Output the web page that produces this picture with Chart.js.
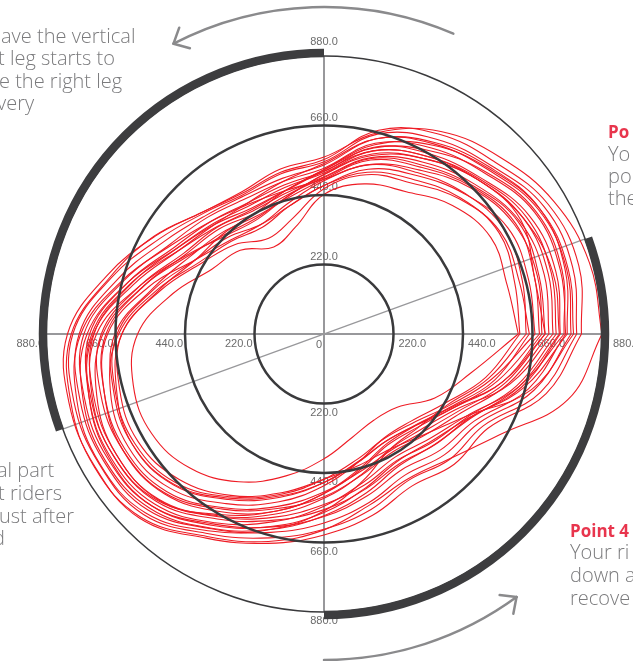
<!DOCTYPE html>
<html>
<head>
<meta charset="utf-8">
<script src="https://cdn.jsdelivr.net/npm/chart.js@4.4.1/dist/chart.umd.min.js"></script>
<style>
  html, body { margin: 0; padding: 0; background: #fff; }
  #wrap { width: 633px; height: 661px; position: relative; }
</style>
</head>
<body>
<div id="wrap"><canvas id="pedalChart"></canvas></div>
<script>
// crank angle (degrees, counter-clockwise from the right) for every sample
const angles = [0, 15, 30, 45, 60, 75, 90, 105, 120, 135, 150, 165, 180, 195, 210, 225, 240, 255, 270, 285, 300, 315, 330, 345];

// pedal force per revolution
const loop1  = [615, 600, 610, 575, 520, 492, 442, 350, 318, 375, 410, 495, 590, 625, 630, 600, 540, 465, 395, 340, 315, 328, 405, 480];
const loop2  = [650, 640, 645, 605, 552, 522, 460, 380, 350, 400, 448, 535, 640, 680, 700, 675, 605, 535, 470, 418, 392, 408, 462, 560];
const loop3  = [682, 690, 700, 660, 610, 570, 490, 445, 430, 455, 490, 560, 662, 690, 700, 672, 600, 530, 470, 420, 392, 410, 470, 570];
const loop4  = [712, 722, 715, 672, 628, 578, 498, 462, 450, 478, 512, 600, 705, 732, 735, 712, 640, 572, 515, 462, 432, 452, 500, 605];
const loop5  = [700, 705, 710, 665, 618, 575, 495, 455, 440, 470, 505, 590, 690, 720, 728, 705, 635, 565, 500, 450, 425, 440, 490, 595];
const loop6  = [748, 760, 750, 700, 660, 612, 515, 488, 480, 505, 548, 640, 742, 765, 770, 750, 676, 610, 556, 508, 475, 496, 532, 648];
const loop7  = [735, 745, 740, 695, 650, 600, 510, 480, 470, 495, 540, 628, 728, 755, 760, 742, 668, 600, 540, 495, 462, 485, 525, 632];
const loop8  = [782, 795, 785, 735, 695, 640, 535, 510, 505, 530, 585, 675, 775, 800, 805, 788, 712, 650, 598, 552, 515, 540, 565, 688];
const loop9  = [765, 775, 770, 720, 680, 625, 525, 500, 495, 522, 565, 655, 760, 785, 790, 770, 695, 632, 578, 530, 495, 520, 550, 670];
const loop10 = [815, 835, 820, 768, 730, 668, 552, 530, 515, 545, 618, 712, 812, 836, 838, 825, 746, 686, 636, 594, 556, 583, 598, 728];
const loop11 = [640, 650, 660, 630, 590, 555, 490, 470, 475, 505, 560, 660, 770, 810, 820, 800, 720, 640, 560, 480, 420, 420, 450, 540];
const loop12 = [790, 800, 790, 740, 690, 620, 520, 470, 440, 450, 470, 540, 640, 670, 680, 650, 590, 520, 460, 430, 420, 450, 520, 680];
const loop13 = [668, 670, 672, 628, 580, 540, 470, 420, 400, 432, 470, 555, 655, 685, 692, 665, 595, 525, 460, 410, 382, 398, 455, 550];
const loop14 = [800, 815, 805, 752, 712, 655, 545, 525, 510, 540, 602, 695, 795, 820, 822, 808, 730, 668, 618, 575, 535, 562, 582, 710];
const loop15 = [880, 870, 840, 790, 740, 660, 560, 540, 520, 545, 620, 700, 800, 830, 840, 820, 740, 680, 620, 560, 530, 560, 640, 800];
const loop16 = [700, 690, 720, 690, 640, 585, 505, 450, 420, 440, 500, 600, 720, 760, 770, 745, 660, 580, 505, 440, 400, 410, 465, 585];
const loop17 = [760, 780, 775, 725, 670, 610, 520, 470, 455, 480, 530, 630, 735, 770, 780, 760, 690, 615, 545, 485, 450, 470, 520, 640];
const loop18 = [725, 735, 730, 690, 640, 590, 505, 450, 425, 445, 495, 590, 700, 745, 760, 740, 665, 590, 520, 460, 420, 430, 480, 610];
const loop19 = [690, 700, 695, 655, 600, 555, 485, 430, 400, 420, 470, 575, 685, 720, 735, 715, 650, 580, 505, 445, 405, 418, 470, 585];
const loop20 = [770, 790, 790, 745, 700, 640, 540, 500, 480, 490, 530, 620, 730, 770, 785, 770, 700, 630, 565, 505, 465, 480, 530, 655];
const loop21 = [620, 625, 640, 610, 565, 530, 470, 420, 390, 415, 455, 545, 650, 700, 715, 690, 620, 550, 480, 420, 380, 390, 440, 530];
const loop22 = [745, 750, 730, 690, 650, 600, 515, 470, 460, 490, 540, 640, 750, 790, 800, 780, 710, 640, 575, 520, 480, 495, 535, 640];

const loops = [loop1, loop2, loop3, loop4, loop5, loop6, loop7, loop8, loop9, loop10, loop11,
               loop12, loop13, loop14, loop15, loop16, loop17, loop18, loop19, loop20, loop21, loop22];

const ringValues = [220, 440, 660];
const tickValues = [220, 440, 660, 880];
const maxValue = 880;

function toPoints(radii) {
    const pts = angles.map((a, i) => {
        const t = a * Math.PI / 180;
        return { x: radii[i] * Math.cos(t), y: radii[i] * Math.sin(t) };
    });
    pts.push(pts[0]);
    return pts;
}

const datasets = loops.map((r, i) => ({
    label: 'Loop ' + (i + 1),
    data: toPoints(r),
    showLine: true,
    borderColor: '#ee1c25',
    borderWidth: 1.1,
    pointRadius: 0,
    tension: 0.4,
    fill: false
}));

function seg(ctx, x1, y1, x2, y2) {
    ctx.beginPath();
    ctx.moveTo(x1, y1);
    ctx.lineTo(x2, y2);
    ctx.stroke();
}

function arrowHead(ctx, tx, ty, dirX, dirY, len, spread) {
    // dir points backwards from the tip
    const a = Math.atan2(dirY, dirX);
    seg(ctx, tx, ty, tx + len * Math.cos(a + spread), ty + len * Math.sin(a + spread));
    seg(ctx, tx, ty, tx + len * Math.cos(a - spread), ty + len * Math.sin(a - spread));
}

const polarFrame = {
    id: 'polarFrame',
    beforeDatasetsDraw(chart) {
        const { ctx, scales: { x, y } } = chart;
        const cx = x.getPixelForValue(0), cy = y.getPixelForValue(0);
        ctx.save();
        ctx.strokeStyle = '#98989b';
        ctx.lineWidth = 2;
        seg(ctx, x.getPixelForValue(-maxValue), cy, x.getPixelForValue(maxValue), cy);
        seg(ctx, cx, y.getPixelForValue(maxValue), cx, y.getPixelForValue(-maxValue));

        const d = 20 * Math.PI / 180;
        ctx.lineWidth = 1.3;
        seg(ctx, x.getPixelForValue(-maxValue * Math.cos(d)), y.getPixelForValue(-maxValue * Math.sin(d)),
                 x.getPixelForValue(maxValue * Math.cos(d)), y.getPixelForValue(maxValue * Math.sin(d)));

        ctx.fillStyle = '#6b6b6b';
        ctx.font = '11px "Liberation Sans", Arial, sans-serif';
        ctx.textBaseline = 'middle';
        tickValues.forEach(v => {
            const txt = v.toFixed(1);
            ctx.textAlign = 'center';
            ctx.fillText(txt, cx, y.getPixelForValue(v) - (v === maxValue ? 14 : 8));
            ctx.fillText(txt, cx, y.getPixelForValue(-v) + 9);
            ctx.textAlign = 'right';
            ctx.fillText(txt, x.getPixelForValue(-v) - 2, cy + 10);
            ctx.textAlign = 'left';
            ctx.fillText(txt, x.getPixelForValue(v) + (v === maxValue ? 11 : 5), cy + 10);
        });
        ctx.textAlign = 'right';
        ctx.fillText('0', cx - 2, cy + 11);
        ctx.restore();
    },
    afterDatasetsDraw(chart) {
        const { ctx, scales: { x, y } } = chart;
        const cx = x.getPixelForValue(0), cy = y.getPixelForValue(0);
        ctx.save();
        ctx.strokeStyle = '#3a3a3c';
        ctx.lineWidth = 2.5;
        ringValues.forEach(v => {
            ctx.beginPath();
            ctx.arc(cx, cy, x.getPixelForValue(v) - cx, 0, Math.PI * 2);
            ctx.stroke();
        });
        const R = x.getPixelForValue(maxValue) - cx;
        ctx.lineWidth = 1.5;
        ctx.beginPath();
        ctx.arc(cx, cy, R, 0, Math.PI * 2);
        ctx.stroke();

        // thick arcs on the outer ring
        ctx.lineWidth = 8.5;
        ctx.strokeStyle = '#3d3d3f';
        ctx.beginPath();
        ctx.arc(cx, cy, R + 3, -Math.PI / 2, -200 * Math.PI / 180, true);
        ctx.stroke();
        ctx.beginPath();
        ctx.arc(cx, cy, R + 3, Math.PI / 2, -20 * Math.PI / 180, true);
        ctx.stroke();
        ctx.restore();
    },
    afterDraw(chart) {
        const { ctx, scales: { x, y } } = chart;
        const cx = x.getPixelForValue(0), cy = y.getPixelForValue(0);
        ctx.save();

        // curved arrows
        ctx.strokeStyle = '#8a8a8c';
        ctx.lineWidth = 2.5;
        ctx.lineCap = 'round';
        const ra = 327;
        const a1 = -66.7 * Math.PI / 180, a2 = -117.4 * Math.PI / 180;
        ctx.beginPath();
        ctx.arc(cx, cy, ra, a1, a2, true);
        ctx.stroke();
        let tx = cx + ra * Math.cos(a2), ty = cy + ra * Math.sin(a2);
        arrowHead(ctx, tx, ty, -Math.sin(a2), Math.cos(a2), 17, 0.75);

        const rb = 326;
        const b1 = Math.PI / 2, b2 = 53.8 * Math.PI / 180;
        ctx.beginPath();
        ctx.arc(cx, cy, rb, b1, b2, true);
        ctx.stroke();
        tx = cx + rb * Math.cos(b2); ty = cy + rb * Math.sin(b2);
        arrowHead(ctx, tx, ty, -Math.sin(b2), Math.cos(b2), 17, 0.75);

        // notes around the wheel (cut by the page edge)
        ctx.textBaseline = 'alphabetic';
        ctx.textAlign = 'left';
        ctx.fillStyle = '#7b7b7d';
        ctx.font = '300 20px "Open Sans", Lato, sans-serif';
        ctx.fillText('ave the vertical', 1, 43);
        ctx.fillText('t leg starts to', -2, 65);
        ctx.fillText('e the right leg', -1, 88);
        ctx.fillText('very', -3, 110);

        ctx.fillText('al part', -3, 477);
        ctx.fillText('t riders', -2, 500);
        ctx.fillText('ust after', -1, 523);
        ctx.fillText('d', -7, 545);

        ctx.fillText('Yo', 608, 161);
        ctx.fillText('po', 608, 183);
        ctx.fillText('the', 608, 205);

        ctx.fillText('Your ri', 570, 559);
        ctx.fillText('down a', 570, 582);
        ctx.fillText('recove', 570, 605);

        ctx.fillStyle = '#e8354d';
        ctx.font = 'bold 17px "Open Sans", Lato, sans-serif';
        ctx.fillText('Po', 608, 138);
        ctx.fillText('Point 4', 570, 537);
        ctx.restore();
    }
};

const ctx = document.getElementById('pedalChart').getContext('2d');
new Chart(ctx, {
    type: 'scatter',
    data: { datasets: datasets },
    options: {
        responsive: true,
        maintainAspectRatio: false,
        animation: false,
        layout: { padding: { left: 46, right: 31, top: 56, bottom: 49 } },
        plugins: {
            legend: { display: false },
            tooltip: { enabled: false }
        },
        scales: {
            x: { type: 'linear', min: -maxValue, max: maxValue, display: false },
            y: { type: 'linear', min: -maxValue, max: maxValue, display: false }
        }
    },
    plugins: [polarFrame]
});
</script>
</body>
</html>
